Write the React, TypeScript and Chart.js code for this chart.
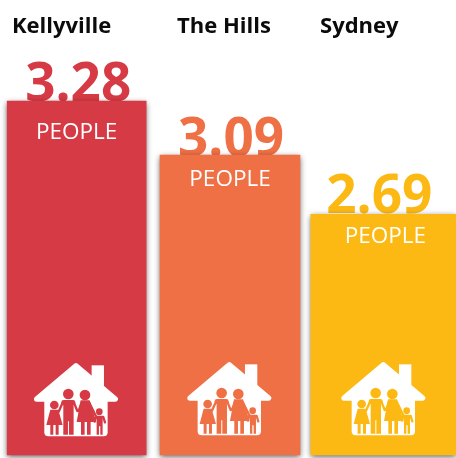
import React, { useEffect, useRef } from "react";
import { Chart, registerables } from "chart.js";

Chart.register(...registerables);

const categories = ["Kellyville", "The Hills", "Sydney"];
const peopleValues = ["3.28", "3.09", "2.69"];
// Bar lengths as drawn in the picture: the artwork is not proportional to its labels.
const drawnHeights = [3.28, 2.78, 2.23];
const unitLabel = "PEOPLE";
const colors = ["#D63B45", "#EF7045", "#FDB913"];
const thickness = [139, 140, 145];

const catDx = [-64.7, -53, -63.3];
const valueDx = [1.5, 1, -4];
const valueDy = [0, 1, -1];
const peopleDx = [0, 0, 2];
const peopleDy = [38, 31, 29];
const iconDx = [-0.7, -0.7, 0];
const iconDy = [363, 362, 362];

function rr(c: CanvasRenderingContext2D, x: number, y: number, w: number, h: number) {
  c.rect(x, y, w, h);
}

function drawHouse(c: CanvasRenderingContext2D, cx: number, top: number, fill: string) {
  c.save();
  c.filter = "blur(0.4px)";
  c.translate(cx, top);
  c.scale(1 / 3, 1 / 3);
  c.translate(-228, -68);
  c.fillStyle = "#fff";
  c.strokeStyle = "#fff";
  c.lineJoin = "round";
  c.lineWidth = 16;
  // roof
  c.beginPath();
  c.moveTo(228, 76);
  c.lineTo(346, 176);
  c.lineTo(110, 176);
  c.closePath();
  c.fill();
  c.stroke();
  // chimney
  c.beginPath();
  c.rect(275, 75, 37, 70);
  c.fill();
  // body
  c.beginPath();
  c.roundRect(133, 150, 190, 138, 12);
  c.fill();
  // family
  c.fillStyle = fill;
  c.strokeStyle = fill;
  c.lineWidth = 7;
  c.lineCap = "round";
  const head = (x: number, y: number, r: number) => {
    c.beginPath();
    c.arc(x, y, r, 0, Math.PI * 2);
    c.fill();
  };
  head(205, 161, 16);
  head(255, 164, 16);
  head(163, 194, 13);
  head(298, 214, 10);
  // man
  c.beginPath();
  c.roundRect(184, 179, 42, 16, 7);
  rr(c, 190, 185, 31, 58);
  rr(c, 190, 240, 14, 43);
  rr(c, 207, 240, 14, 43);
  c.fill();
  // woman
  c.beginPath();
  c.moveTo(242, 180);
  c.lineTo(269, 180);
  c.lineTo(289, 245);
  c.lineTo(230, 245);
  c.closePath();
  rr(c, 243, 240, 11, 43);
  rr(c, 261, 240, 11, 43);
  c.fill();
  // girl
  c.beginPath();
  c.moveTo(151, 208);
  c.lineTo(175, 208);
  c.lineTo(188, 254);
  c.lineTo(139, 254);
  c.closePath();
  rr(c, 151, 250, 9, 33);
  rr(c, 167, 250, 9, 33);
  c.fill();
  // boy
  c.beginPath();
  c.roundRect(286, 226, 26, 9, 3);
  rr(c, 290, 228, 18, 30);
  rr(c, 290, 255, 7, 28);
  rr(c, 301, 255, 7, 28);
  c.fill();
  // arms
  c.beginPath();
  c.moveTo(188, 187);
  c.lineTo(176, 214);
  c.moveTo(222, 187);
  c.lineTo(232, 212);
  c.moveTo(245, 187);
  c.lineTo(236, 212);
  c.moveTo(268, 187);
  c.lineTo(288, 228);
  c.moveTo(310, 230);
  c.lineTo(315, 246);
  c.moveTo(288, 230);
  c.lineTo(284, 244);
  c.stroke();
  c.restore();
}

const barPos = (chart: Chart, i: number) => chart.getDatasetMeta(i).data[i] as any;

const artwork = {
  id: "artwork",
  beforeDatasetsDraw(chart: Chart) {
    const c = chart.ctx;
    c.save();
    c.textBaseline = "alphabetic";
    categories.forEach((name, i) => {
      const b = barPos(chart, i);
      c.textAlign = "left";
      c.fillStyle = "#0b0b0b";
      c.font = "bold 22px 'Open Sans'";
      c.fillText(name, b.x + catDx[i], 33);
      c.textAlign = "center";
      c.fillStyle = colors[i];
      c.font = "bold 53px 'Open Sans'";
      c.fillText(peopleValues[i], b.x + valueDx[i], b.y + valueDy[i]);
    });
    c.restore();
    c.save();
    c.shadowColor = "rgba(0,0,0,0.6)";
    c.shadowBlur = 6;
    c.shadowOffsetY = 2;
    c.shadowOffsetX = 0;
  },
  afterDatasetsDraw(chart: Chart) {
    const c = chart.ctx;
    c.restore();
    c.save();
    c.textBaseline = "alphabetic";
    categories.forEach((_, i) => {
      const b = barPos(chart, i);
      c.textAlign = "center";
      c.fillStyle = "#fff";
      c.font = "22.5px 'Open Sans'";
      c.fillText(unitLabel, b.x + peopleDx[i], b.y + peopleDy[i]);
      drawHouse(c, b.x + iconDx[i], iconDy[i], colors[i]);
    });
    c.restore();
  },
};

export default function App() {
  const ref = useRef<HTMLCanvasElement>(null);
  useEffect(() => {
    const chart = new Chart(ref.current!, {
      type: "bar",
      data: {
        labels: categories,
        datasets: categories.map((name, i) => ({
          label: name,
          data: categories.map((_, j) => (j === i ? drawnHeights[i] : null)),
          backgroundColor: colors[i],
          barThickness: thickness[i],
          borderWidth: 0,
          clip: false,
        })),
      },
      options: {
        animation: false,
        responsive: false,
        layout: { padding: { left: 0, right: 0, top: 0, bottom: 3 } },
        plugins: { legend: { display: false }, tooltip: { enabled: false } },
        scales: {
          x: { display: false, stacked: true },
          y: { display: false, min: 0, max: 4.216 },
        },
      },
      plugins: [artwork],
    });
    return () => chart.destroy();
  }, []);
  return (
    <div style={{ position: "fixed", left: 0, top: 0, width: 456, height: 458, overflow: "hidden", background: "#fff" }}>
      <canvas ref={ref} width={460} height={458} style={{ display: "block" }} />
    </div>
  );
}
